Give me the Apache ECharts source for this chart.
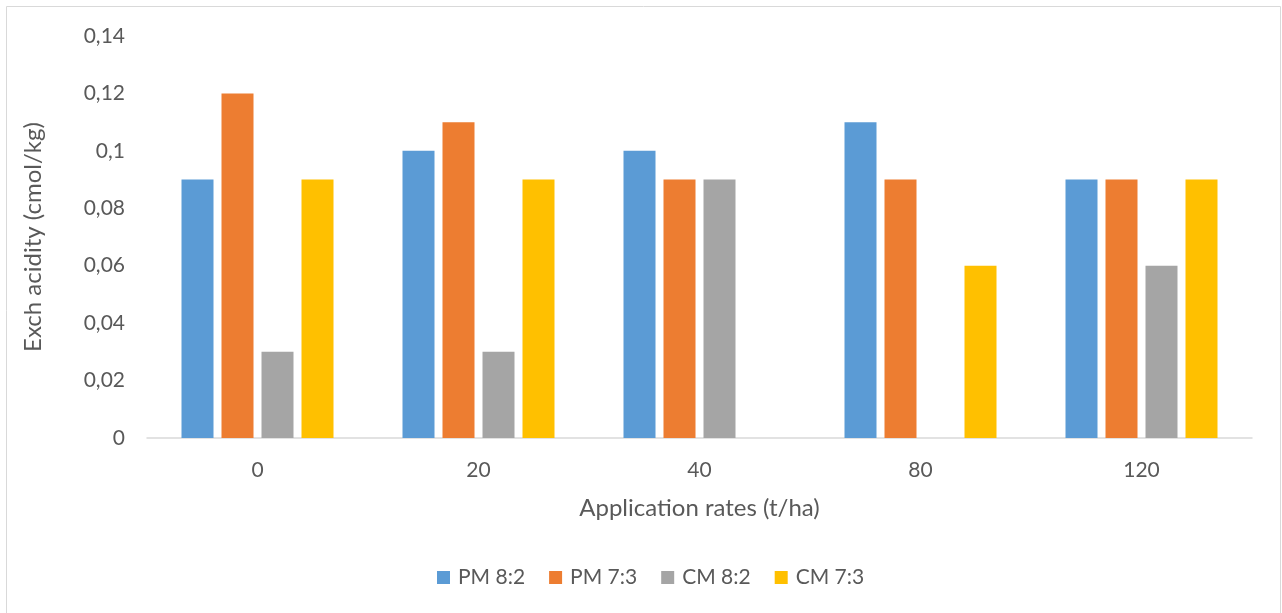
<!DOCTYPE html>
<html>
<head>
<meta charset="utf-8">
<script src="https://cdn.jsdelivr.net/npm/echarts@6/dist/echarts.min.js"></script>
<style>html,body{margin:0;padding:0;background:#fff;}#c{width:1282px;height:613px;}</style>
</head>
<body>
<div id="c"></div>
<script>
const categories = ['0', '20', '40', '80', '120'];
const pm82 = [0.09, 0.10, 0.10, 0.11, 0.09];
const pm73 = [0.12, 0.11, 0.09, 0.09, 0.09];
const cm82 = [0.03, 0.03, 0.09, 0, 0.06];
const cm73 = [0.09, 0.09, 0, 0.06, 0.09];
const seriesNames = ['PM 8:2', 'PM 7:3', 'CM 8:2', 'CM 7:3'];
const colors = ['#5B9BD5', '#ED7D31', '#A5A5A5', '#FFC000'];

const font = 'Lato, "Liberation Sans", sans-serif';
const chart = echarts.init(document.getElementById('c'), null, {renderer: 'canvas'});
const mk = (name, data, i) => ({
  name, type: 'bar', data, barWidth: 32, barGap: '25%', barCategoryGap: '31%',
  itemStyle: {color: colors[i]}
});
chart.setOption({
  animation: false,
  textStyle: {fontFamily: font},
  graphic: [{type: 'rect', shape: {x: 6.5, y: 6.5, width: 1274, height: 620}, style: {fill: 'none', stroke: '#D9D9D9', lineWidth: 1}, z: -1}],
  grid: {left: 147, right: 30, top: 36, bottom: 175, containLabel: false},
  legend: {
    data: seriesNames, bottom: 20, left: 432, icon: 'rect', itemWidth: 13, itemHeight: 13, itemGap: 24,
    textStyle: {fontSize: 21, color: '#595959', fontFamily: font, padding: [0, 0, 0, 3]}
  },
  xAxis: {
    type: 'category', data: categories,
    name: 'Application rates (t/ha)', nameLocation: 'middle', nameGap: 58,
    nameTextStyle: {fontSize: 24, color: '#595959', fontFamily: font},
    axisLine: {lineStyle: {color: '#D9D9D9', width: 1.5}},
    axisTick: {show: false},
    axisLabel: {fontSize: 21, color: '#595959', margin: 22, fontFamily: font}
  },
  yAxis: {
    type: 'value', min: 0, max: 0.14, interval: 0.02,
    name: 'Exch acidity (cmol/kg)', nameLocation: 'middle', nameGap: 102,
    nameTextStyle: {fontSize: 24, color: '#595959', fontFamily: font},
    axisLine: {show: false}, axisTick: {show: false}, splitLine: {show: false},
    axisLabel: {fontSize: 21, color: '#595959', margin: 22, fontFamily: font,
      formatter: v => v === 0 ? '0' : String(+v.toFixed(2)).replace('.', ',')}
  },
  series: [mk(seriesNames[0], pm82, 0), mk(seriesNames[1], pm73, 1), mk(seriesNames[2], cm82, 2), mk(seriesNames[3], cm73, 3)]
});
</script>
</body>
</html>
